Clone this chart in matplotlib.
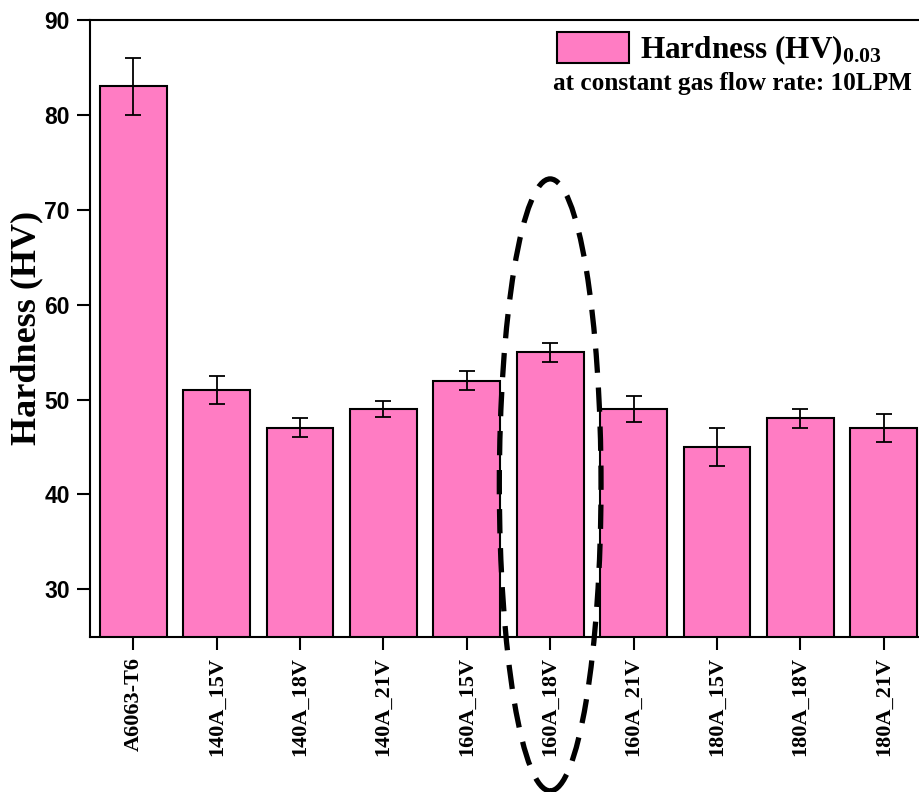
import matplotlib
matplotlib.use("Agg")
import matplotlib.pyplot as plt
from matplotlib.patches import Ellipse

samples = ["A6063-T6", "140A_15V", "140A_18V", "140A_21V", "160A_15V",
           "160A_18V", "160A_21V", "180A_15V", "180A_18V", "180A_21V"]
hardness = [83, 51, 47, 49, 52, 55, 49, 45, 48, 47]
hardness_err = [3.0, 1.5, 1.0, 0.8, 1.0, 1.0, 1.4, 2.0, 1.0, 1.45]
y_ticks = [30, 40, 50, 60, 70, 80, 90]

plt.rcParams["mathtext.fontset"] = "custom"
plt.rcParams["mathtext.bf"] = "Liberation Serif:bold"
plt.rcParams["mathtext.rm"] = "Liberation Serif:bold"
plt.rcParams["mathtext.default"] = "bf"

serif = "Liberation Serif"
sans = "Liberation Sans"
pink = "#FF7CC3"

fig = plt.figure(figsize=(9.19, 7.92), dpi=100)
W, H = 919, 792
ax = fig.add_axes([90 / W, 1 - 636.7 / H, 837 / W, 616.7 / H])

x = list(range(len(samples)))
bars = ax.bar(x, hardness, width=0.8, color=pink, edgecolor="black",
              linewidth=1.5, label="Hardness (HV)$_{0.03}$", zorder=2)
ax.errorbar(x, hardness, yerr=hardness_err, fmt="none", ecolor="black",
            elinewidth=1.3, capsize=6, capthick=1.3, zorder=3)

ax.set_xlim(-0.52, 9.52)
ax.set_ylim(25, 90)
ax.set_yticks(y_ticks)
ax.set_yticklabels([str(t) for t in y_ticks], fontfamily=sans,
                   fontweight="bold", fontsize=16.5)
ax.set_xticks(x)
ax.set_xticklabels(samples, rotation=90, fontfamily=serif,
                   fontweight="bold", fontsize=16)
ax.tick_params(axis="both", direction="out", length=9.5, width=1.5)
ax.tick_params(axis="y", pad=5)
ax.tick_params(axis="x", pad=5)
for s in ax.spines.values():
    s.set_linewidth(1.5)

ax.set_ylabel("Hardness (HV)", fontfamily=serif, fontweight="bold",
              fontsize=26, labelpad=1)

leg = ax.legend(loc="upper left", bbox_to_anchor=(557 / W, 1 - 32 / H),
                bbox_transform=fig.transFigure, frameon=False,
                prop={"family": serif, "weight": "bold", "size": 22.5},
                handlelength=2.3, handleheight=1.15, handletextpad=0.35,
                borderpad=0, borderaxespad=0)
fig.text(912 / W, 1 - 90 / H, "at constant gas flow rate: 10LPM",
         ha="right", va="baseline", fontfamily=serif, fontweight="bold",
         fontsize=18.2)

# dashed ring around the highlighted sample
ring = Ellipse((5, 41.0), width=1.22, height=64.5, fill=False,
               edgecolor="black", linewidth=3.8,
               linestyle=(0, (4.6, 2.8)), clip_on=False, zorder=5)
ax.add_patch(ring)

fig.savefig("out.png", dpi=100)
